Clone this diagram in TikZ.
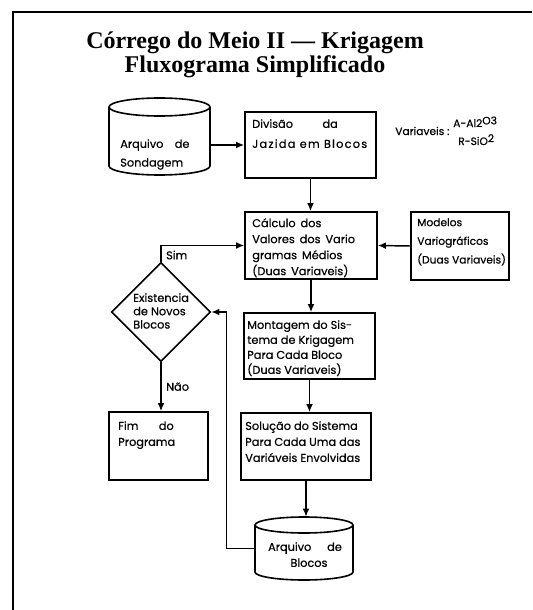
\documentclass[tikz,border=0pt]{standalone}
\usepackage{fontspec}
\newfontfamily\boxfont{Poppins}[FakeBold=0.5]
\newfontfamily\titlefont{Liberation Serif}
\usetikzlibrary{arrows.meta,shapes.geometric,fit}

\begin{document}
\begin{tikzpicture}[x=.75pt,y=-.75pt,
    blk/.style={draw,line width=1.2pt,inner sep=0pt},
    drum/.style={inner sep=0pt},
    drumline/.style={line width=1.2pt},
    txt/.style={inner sep=0pt,anchor=north west,align=left,font=\boxfont\fontsize{8.5}{12}\selectfont},
    flow/.style={line width=1.1pt,-{Latex[length=6pt,width=5pt]}}]
  \useasboundingbox (0,0) rectangle (532,610);
  % frame, open on the right and at the bottom
  \draw[line width=1.5pt] (12.5,610) -- (12.5,12.5) -- (532,12.5);
  \node[font=\titlefont\bfseries\fontsize{18}{18}\selectfont,align=center] (ttl) at (255,55)
    {Córrego do Meio II — Krigagem\\Fluxograma Simplificado};

  % input file and the variables
  \node[drum,fit={(109,98) (210,175)}] (son) {};
  \draw[drumline] (109,107) -- (109,166) arc[start angle=180,end angle=0,x radius=50.5,y radius=9] -- (210,107);
  \draw[drumline] (159.5,107) ellipse[x radius=50.5,y radius=9];
  \node[txt] (sontxt) at (120,139) {Arquivo\hspace{1em}de\\[2pt]Sondagem};
  \node[txt,font=\boxfont\fontsize{8}{10}\selectfont,anchor=base west] (var) at (395,135) {Variaveis :};
  \node[txt,font=\boxfont\fontsize{8}{10}\selectfont,anchor=base west] (vara) at (453,127) {A-Al2\raisebox{.45ex}{O3}};
  \node[txt,font=\boxfont\fontsize{8}{10}\selectfont,anchor=base west] (varr) at (458,145) {R-SiO\raisebox{.5ex}{2}};

  % main column
  \node[blk,fit={(245,112) (376,178)}] (div) {};
  \node[txt] (divtxt) at (252,119) {Divisão\hspace{2.6em}da\\[3pt]{\addfontfeature{LetterSpace=11}Jazida em Blocos}};
  \node[blk,fit={(245,212) (377,279)}] (calc) {};
  \node[txt] (calctxt) at (252,218) {Cálculo\, dos\\Valores\, dos\, Vario\\gramas\, Médios\\(Duas\, Variaveis)};
  \node[blk,fit={(411,212) (509,280)}] (mod) {};
  \node[txt,font=\boxfont\fontsize{8}{12}\selectfont] (modtxt) at (417,218) {Modelos\\[2pt]Variográficos\\[2pt](Duas Variaveis)};
  \node[blk,fit={(244,313) (375,379)}] (mont) {};
  \node[txt,font=\boxfont\fontsize{8.5}{11.25}\selectfont] (monttxt) at (247,320) {Montagem do Sis-\\tema de Krigagem\\Para Cada Bloco\\(Duas Variaveis)};
  \node[blk,fit={(241,413) (371,480)}] (sol) {};
  \node[txt] (soltxt) at (245,421) {Solução do Sistema\\Para Cada Uma das\\Variáveis Envolvidas};
  \node[drum,fit={(255,517) (353,580)}] (blc) {};
  \draw[drumline] (255,525) -- (255,572) arc[start angle=180,end angle=0,x radius=49,y radius=8] -- (353,525);
  \draw[drumline] (304,525) ellipse[x radius=49,y radius=8];
  \node[txt,anchor=north,align=center] (blctxt) at (305,542) {Arquivo\hspace{1.4em}de\\\hspace{.7em}Blocos};

  % decision and end
  \node[draw,diamond,line width=1.2pt,inner sep=0pt,minimum width={99*.75pt},minimum height={99*.75pt}] (dia) at (161,312) {};
  \node[txt,font=\boxfont\fontsize{8.5}{10}\selectfont] (diatxt) at (133,293) {Existencia\\de Novos\\Blocos};
  \node[blk,fit={(109,412) (208,480)}] (fim) {};
  \node[txt] (fimtxt) at (118,421) {Fim\hspace{1.8em}do\\Programa};

  \draw[flow] (son.east |- div.west) -- (div.west);
  \draw[flow] (div.south) -- (div.south |- calc.north);
  \draw[flow] (mod.west) -- (calc.west -| calc.east);
  \draw[flow] (calc.south) -- (calc.south |- mont.north);
  \draw[flow] (mont.south) -- (mont.south |- sol.north);
  \draw[flow] (sol.south) -- (sol.south |- blc.north);
  \draw[flow] (dia.north) |- (calc.west) node[pos=.5,below right,font=\boxfont\fontsize{8.5}{10}\selectfont] (sim) {Sim};
  \draw[flow] (dia.south) -- (dia.south |- fim.north) node[midway,right,font=\boxfont\fontsize{8.5}{10}\selectfont] (nao) {Não};
  \draw[flow] (blc.west) -- ++(-28,0) |- (dia.east);
\end{tikzpicture}
\end{document}
